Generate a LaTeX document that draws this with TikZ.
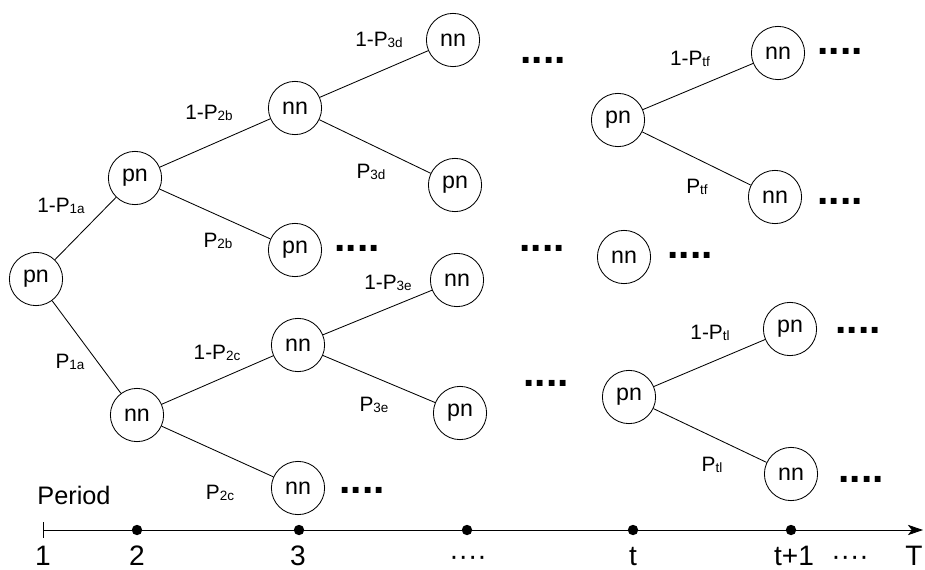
\documentclass[tikz,border=0pt]{standalone}
\usepackage{fontspec}
\setmainfont{Liberation Sans}
\usetikzlibrary{arrows.meta}
\newcommand{\psub}[1]{\raisebox{-0.7pt}{\fontsize{9.6}{9.6}\selectfont #1}}

\begin{document}
\begin{tikzpicture}[x=0.025cm, y=-0.025cm,
	state/.style={draw, circle, minimum size=1.33cm, inner sep=0pt,
		line width=0.6pt, font=\fontsize{16.5}{16.5}\selectfont},
	prob/.style={inner sep=0pt, font=\fontsize{14.8}{14.8}\selectfont},
	more/.style={inner sep=0pt, anchor=base, font=\bfseries\fontsize{29}{29}\selectfont},
	ptlabel/.style={inner sep=0pt, anchor=base, font=\fontsize{20}{20}\selectfont},
	ptdot/.style={fill, circle, inner sep=0pt, minimum size=0.26cm},
	branch/.style={line width=0.6pt}]

\useasboundingbox (0,0) rectangle (925,570);

% Period 1
\node [state] (A) at (36,279) {pn};

% Period 2
\node [state] (B) at (135,178) {pn};
\node [state] (C) at (137,415) {nn};

% Period 3
\node [state] (D) at (295,108) {nn};
\node [state] (E) at (295,250) {pn};
\node [state] (F) at (298,345) {nn};
\node [state] (G) at (298,488) {nn};

% Period 4
\node [state] (H) at (453,40) {nn};
\node [state] (I) at (455,185) {pn};
\node [state] (J) at (457,280) {nn};
\node [state] (K) at (460,413) {pn};

% Period t
\node [state] (L) at (618,120) {pn};
\node [state] (M) at (624,257) {nn};
\node [state] (N) at (629,397) {pn};

% Period t+1
\node [state] (O) at (778,53) {nn};
\node [state] (P) at (775,197) {nn};
\node [state] (Q) at (790,329) {pn};
\node [state] (R) at (791,474) {nn};

% Branches
\draw [branch] (A) -- (B);
\draw [branch] (A) -- (C);
\draw [branch] (B) -- (D);
\draw [branch] (B) -- (E);
\draw [branch] (C) -- (F);
\draw [branch] (C) -- (G);
\draw [branch] (D) -- (H);
\draw [branch] (D) -- (I);
\draw [branch] (F) -- (J);
\draw [branch] (F) -- (K);
\draw [branch] (L) -- (O);
\draw [branch] (L) -- (P);
\draw [branch] (N) -- (Q);
\draw [branch] (N) -- (R);

% Branch probabilities
\node [prob] (AB) at (61,206) {1-P\psub{1a}};
\node [prob] (AC) at (70,362) {P\psub{1a}};
\node [prob] (BD) at (209,113) {1-P\psub{2b}};
\node [prob] (BE) at (218,241) {P\psub{2b}};
\node [prob] (CF) at (217,353) {1-P\psub{2c}};
\node [prob] (CG) at (220,493) {P\psub{2c}};
\node [prob] (DH) at (379,40) {1-P\psub{3d}};
\node [prob] (DI) at (371,172) {P\psub{3d}};
\node [prob] (FJ) at (388,283) {1-P\psub{3e}};
\node [prob] (FK) at (374,405) {P\psub{3e}};
\node [prob] (LO) at (690,59) {1-P\psub{tf}};
\node [prob] (LP) at (697,187) {P\psub{tf}};
\node [prob] (NQ) at (710,333) {1-P\psub{tl}};
\node [prob] (NR) at (712,465) {P\psub{tl}};

% Continuation dots
\node [more] (m1) at (543,64) {....};
\node [more] (m2) at (357,251) {....};
\node [more] (m3) at (542,251) {....};
\node [more] (m4) at (840,55) {....};
\node [more] (m5) at (840,205) {....};
\node [more] (m6) at (690,259) {....};
\node [more] (m7) at (546,386) {....};
\node [more] (m8) at (362,493) {....};
\node [more] (m9) at (858,333) {....};
\node [more] (m10) at (861,482) {....};

% Time axis
\node [inner sep=0pt, font=\fontsize{18}{18}\selectfont] (per) at (74,495) {Period};
\coordinate (ax0) at (43,530);
\coordinate (axT) at (923,530);
\draw [line width=0.6pt, {Bar[width=0.38cm]}-{Stealth[length=0.38cm, width=0.26cm, inset=0.1cm]}] (ax0) -- (axT);
\node [ptdot] (t2) at (137,530) {};
\node [ptdot] (t3) at (299,530) {};
\node [ptdot] (t4) at (467,530) {};
\node [ptdot] (t5) at (633,530) {};
\node [ptdot] (t6) at (791,530) {};

\node [ptlabel] (p1) at (43,565) {1};
\node [ptlabel] (p2) at (137,565) {2};
\node [ptlabel] (p3) at (298,565) {3};
\node [ptlabel] (p4) at (468,565) {····};
\node [ptlabel] (p5) at (633,565) {t};
\node [ptlabel] (p6) at (794,565) {t+1};
\node [ptlabel] (p7) at (850,565) {····};
\node [ptlabel] (p8) at (914,565) {T};

\end{tikzpicture}
\end{document}
